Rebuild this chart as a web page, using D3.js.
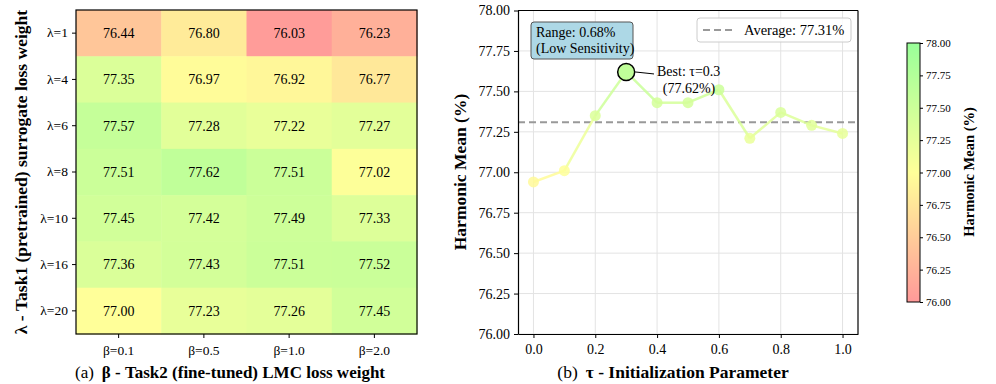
<!DOCTYPE html>
<html>
<head>
<meta charset="utf-8">
<script src="https://cdn.jsdelivr.net/npm/d3@7"></script>
<style>
  body { margin: 0; background: #fff; }
  svg { font-family: "Liberation Serif", "DejaVu Serif", serif; }
</style>
</head>
<body>
<script>
// heatmap data
let lambdas = ["λ=1", "λ=4", "λ=6", "λ=8", "λ=10", "λ=16", "λ=20"];
let betas = ["β=0.1", "β=0.5", "β=1.0", "β=2.0"];
let grid = [
  [76.44, 76.80, 76.03, 76.23],
  [77.35, 76.97, 76.92, 76.77],
  [77.57, 77.28, 77.22, 77.27],
  [77.51, 77.62, 77.51, 77.02],
  [77.45, 77.42, 77.49, 77.33],
  [77.36, 77.43, 77.51, 77.52],
  [77.00, 77.23, 77.26, 77.45]
];

// tau sweep
let taus = [0.0, 0.1, 0.2, 0.3, 0.4, 0.5, 0.6, 0.7, 0.8, 0.9, 1.0];
let hm = [76.94, 77.01, 77.35, 77.62, 77.43, 77.43, 77.51, 77.21, 77.37, 77.29, 77.24];
let yTicks = [76.00, 76.25, 76.50, 76.75, 77.00, 77.25, 77.50, 77.75, 78.00];
let xTicks = [0.0, 0.2, 0.4, 0.6, 0.8, 1.0];

let avg = d3.mean(hm);
let best = d3.maxIndex(hm);
let range = d3.max(hm) - d3.min(hm);

let color = d3.scaleLinear()
    .domain([76, 77, 78])
    .range(["#ff9999", "#ffff99", "#99ff99"])
    .clamp(true);

let svg = d3.select("body").append("svg")
    .attr("width", 996)
    .attr("height", 384);

// ---------- (a) heatmap ----------
let hx = d3.scaleBand().domain(betas).range([76, 417]);
let hy = d3.scaleBand().domain(lambdas).range([10, 334]);

let heat = svg.append("g");
grid.forEach((row, i) => {
  row.forEach((v, j) => {
    heat.append("rect")
      .attr("x", hx(betas[j]))
      .attr("y", hy(lambdas[i]))
      .attr("width", hx.bandwidth() + 0.5)
      .attr("height", hy.bandwidth() + 0.5)
      .attr("fill", color(v));
    heat.append("text")
      .attr("x", hx(betas[j]) + hx.bandwidth() / 2)
      .attr("y", hy(lambdas[i]) + hy.bandwidth() / 2)
      .attr("dy", "0.35em")
      .attr("text-anchor", "middle")
      .attr("font-size", 14)
      .text(v.toFixed(2));
  });
});
heat.append("rect")
  .attr("x", 76).attr("y", 10).attr("width", 341).attr("height", 324)
  .attr("fill", "none").attr("stroke", "#000").attr("stroke-width", 1.2);

svg.append("g")
  .attr("transform", "translate(76,0)")
  .call(d3.axisLeft(hy).tickSizeOuter(0).tickSize(4).tickPadding(4))
  .call(g => g.select(".domain").remove())
  .call(g => g.selectAll("text").attr("font-size", 13.5).attr("font-family", "Liberation Serif"));

svg.append("g")
  .attr("transform", "translate(0,334)")
  .call(d3.axisBottom(hx).tickSizeOuter(0).tickSize(4).tickPadding(7))
  .call(g => g.select(".domain").remove())
  .call(g => g.selectAll("text").attr("font-size", 13.5).attr("font-family", "Liberation Serif"));

svg.append("text")
  .attr("transform", "translate(27,172) rotate(-90)")
  .attr("text-anchor", "middle")
  .attr("font-size", 17.5).attr("font-weight", "bold")
  .text("λ - Task1 (pretrained) surrogate loss weight");

let capA = svg.append("text")
  .attr("x", 230).attr("y", 378)
  .attr("text-anchor", "middle")
  .attr("font-size", 17);
capA.append("tspan").text("(a)");
capA.append("tspan").attr("dx", 8).attr("font-weight", "bold").text("β - Task2 (fine-tuned) LMC loss weight");

// ---------- (b) line chart ----------
let x = d3.scaleLinear().domain([-0.05, 1.05]).range([518, 858]);
let y = d3.scaleLinear().domain([76, 78]).range([334, 10.5]);

let lc = svg.append("g");

// grid
lc.append("g").selectAll("line").data(xTicks).join("line")
  .attr("x1", d => x(d)).attr("x2", d => x(d))
  .attr("y1", y(76)).attr("y2", y(78))
  .attr("stroke", "#e3e3e3").attr("stroke-width", 1);
lc.append("g").selectAll("line").data(yTicks).join("line")
  .attr("x1", x.range()[0]).attr("x2", x.range()[1])
  .attr("y1", d => y(d)).attr("y2", d => y(d))
  .attr("stroke", "#e3e3e3").attr("stroke-width", 1);

// average line
lc.append("line")
  .attr("x1", x.range()[0]).attr("x2", x.range()[1])
  .attr("y1", y(avg)).attr("y2", y(avg))
  .attr("stroke", "#999").attr("stroke-width", 2)
  .attr("stroke-dasharray", "7,4");

// colored segments
for (let i = 0; i < hm.length - 1; i++) {
  lc.append("line")
    .attr("x1", x(taus[i])).attr("y1", y(hm[i]))
    .attr("x2", x(taus[i + 1])).attr("y2", y(hm[i + 1]))
    .attr("stroke", color((hm[i] + hm[i + 1]) / 2))
    .attr("stroke-width", 2.5)
    .attr("stroke-opacity", 0.85);
}

// markers
lc.append("g").selectAll("circle").data(taus).join("circle")
  .attr("cx", d => x(d))
  .attr("cy", (d, i) => y(hm[i]))
  .attr("r", 5.5)
  .attr("fill", (d, i) => color(hm[i]))
  .attr("fill-opacity", 0.85);

// best marker
lc.append("circle")
  .attr("cx", x(taus[best])).attr("cy", y(hm[best]))
  .attr("r", 8.5)
  .attr("fill", color(hm[best]))
  .attr("stroke", "#000").attr("stroke-width", 1.5);

// annotation
lc.append("line")
  .attr("x1", x(taus[best]) + 9).attr("y1", y(hm[best]))
  .attr("x2", 654).attr("y2", y(hm[best]) + 2)
  .attr("stroke", "#000").attr("stroke-width", 1);
lc.append("text")
  .attr("x", 657).attr("y", y(hm[best]) + 4)
  .attr("font-size", 14)
  .text("Best: τ=" + taus[best].toFixed(1));
lc.append("text")
  .attr("x", 689).attr("y", y(hm[best]) + 21)
  .attr("text-anchor", "middle")
  .attr("font-size", 14)
  .text("(" + hm[best].toFixed(2) + "%)");

// axes
lc.append("g")
  .attr("transform", `translate(0,${y(76)})`)
  .call(d3.axisBottom(x).tickValues(xTicks).tickFormat(d3.format(".1f")).tickSize(4).tickPadding(6).tickSizeOuter(0))
  .call(g => g.selectAll("text").attr("font-size", 14).attr("font-family", "Liberation Serif"))
  .call(g => g.select(".domain").attr("stroke-width", 1.2));
lc.append("g")
  .attr("transform", `translate(${x.range()[0]},0)`)
  .call(d3.axisLeft(y).tickValues(yTicks).tickFormat(d3.format(".2f")).tickSize(4).tickPadding(4).tickSizeOuter(0))
  .call(g => g.selectAll("text").attr("font-size", 14).attr("font-family", "Liberation Serif"))
  .call(g => g.select(".domain").attr("stroke-width", 1.2));
lc.append("line")
  .attr("x1", x.range()[1]).attr("x2", x.range()[1])
  .attr("y1", y(76)).attr("y2", y(78))
  .attr("stroke", "#000").attr("stroke-width", 1.2);
lc.append("line")
  .attr("x1", x.range()[0]).attr("x2", x.range()[1])
  .attr("y1", y(78)).attr("y2", y(78))
  .attr("stroke", "#000").attr("stroke-width", 1.2);

// range box
lc.append("rect")
  .attr("x", 531).attr("y", 22).attr("width", 102).attr("height", 37)
  .attr("rx", 3)
  .attr("fill", "#add8e6").attr("stroke", "#555").attr("stroke-width", 1);
lc.append("text").attr("x", 536).attr("y", 37).attr("font-size", 14)
  .text("Range: " + range.toFixed(2) + "%");
lc.append("text").attr("x", 536).attr("y", 53).attr("font-size", 14)
  .text("(Low Sensitivity)");

// legend
lc.append("rect")
  .attr("x", 697).attr("y", 18).attr("width", 154).attr("height", 24)
  .attr("rx", 3)
  .attr("fill", "#fff").attr("fill-opacity", 0.85)
  .attr("stroke", "#ccc").attr("stroke-width", 1);
lc.append("line")
  .attr("x1", 703).attr("x2", 732).attr("y1", 30).attr("y2", 30)
  .attr("stroke", "#999").attr("stroke-width", 2).attr("stroke-dasharray", "7,4");
lc.append("text").attr("x", 744).attr("y", 35).attr("font-size", 14.5)
  .text("Average: " + avg.toFixed(2) + "%");

lc.append("text")
  .attr("transform", "translate(466,172) rotate(-90)")
  .attr("text-anchor", "middle")
  .attr("font-size", 17.5).attr("font-weight", "bold")
  .text("Harmonic Mean (%)");

let capB = svg.append("text")
  .attr("x", 673).attr("y", 378)
  .attr("text-anchor", "middle")
  .attr("font-size", 17.5);
capB.append("tspan").text("(b)");
capB.append("tspan").attr("dx", 8).attr("font-weight", "bold").text("τ - Initialization Parameter");

// ---------- colorbar ----------
let cy = d3.scaleLinear().domain([76, 78]).range([302, 43]);
let defs = svg.append("defs");
let grad = defs.append("linearGradient")
  .attr("id", "cbar").attr("x1", 0).attr("y1", 1).attr("x2", 0).attr("y2", 0);
[76, 77, 78].forEach((v, i) => {
  grad.append("stop").attr("offset", i / 2).attr("stop-color", color(v));
});
svg.append("rect")
  .attr("x", 907).attr("y", 43).attr("width", 13).attr("height", 259)
  .attr("fill", "url(#cbar)").attr("stroke", "#000").attr("stroke-width", 1);
svg.append("g")
  .attr("transform", "translate(920,0)")
  .call(d3.axisRight(cy).tickValues(yTicks).tickFormat(d3.format(".2f")).tickSize(3).tickPadding(3).tickSizeOuter(0))
  .call(g => g.select(".domain").remove())
  .call(g => g.selectAll("text").attr("font-size", 11).attr("font-family", "Liberation Serif"));
svg.append("text")
  .attr("transform", "translate(974,172) rotate(-90)")
  .attr("text-anchor", "middle")
  .attr("font-size", 14.5).attr("font-weight", "bold")
  .text("Harmonic Mean (%)");
</script>
</body>
</html>
